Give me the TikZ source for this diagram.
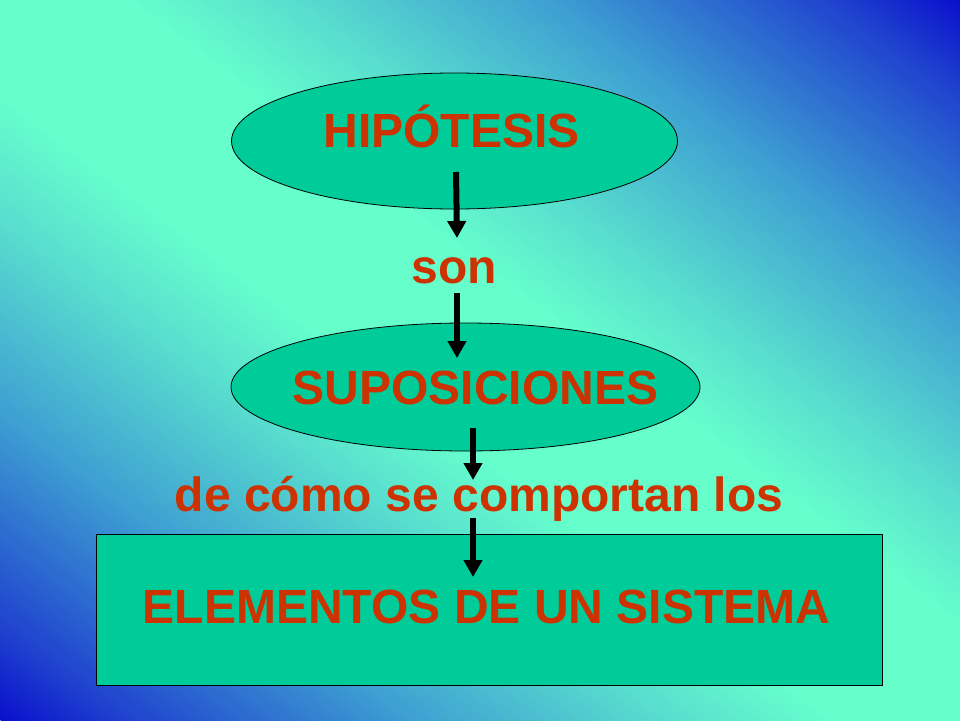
\documentclass[tikz,border=0pt]{standalone}
\usepackage{fontspec}
\setmainfont{Liberation Sans}
\usetikzlibrary{shapes.geometric,arrows.meta}
\definecolor{g0}{HTML}{0A0FCC}
\definecolor{g1}{HTML}{1F42CE}
\definecolor{g2}{HTML}{3EA0D2}
\definecolor{g3}{HTML}{58DCCE}
\definecolor{g4}{HTML}{66FFCC}
\definecolor{shapefill}{HTML}{00CC99}
\definecolor{txtred}{HTML}{CC3300}
% one gradient segment: u from #1 to #2, colour #3 to #4, #5 strips
\newcommand\gradseg[5]{%
  \foreach \k in {1,...,#5}{%
    \pgfmathsetmacro\ua{(#1)+((#2)-(#1))*(\k-1)/#5}%
    \pgfmathsetmacro\ub{(#1)+((#2)-(#1))*\k/#5+0.003}%
    \pgfmathsetmacro\pct{100*(\k-0.5)/#5}%
    \fill[#4!\pct!#3] ({960*\ua-13.33},-10) -- ({960*\ub-13.33},-10)
      -- ({960*\ub+973.33},730) -- ({960*\ua+973.33},730) -- cycle;
  }}
\tikzset{
  shapeline/.style={draw=black, line width=0.8pt, fill=shapefill, inner sep=0pt},
  oval/.style={shapeline, ellipse},
  bigtext/.style={text=txtred, font=\bfseries\fontsize{48}{56}\selectfont, inner sep=0pt, anchor=base},
  arr/.style={line width=6pt, -{Triangle[width=18pt,length=17pt]}, black}
}
\begin{document}
\begin{tikzpicture}[x=1pt,y=-1pt]
\useasboundingbox (0,0) rectangle (960,720);
\begin{scope}
\clip (0,0) rectangle (960,720);
\fill[g0] (0,0) rectangle (960,720);
\gradseg{-1}{-0.87}{g0}{g1}{20}
\gradseg{-0.87}{-0.57}{g1}{g2}{40}
\gradseg{-0.57}{-0.31}{g2}{g3}{30}
\gradseg{-0.31}{-0.13}{g3}{g4}{20}
\gradseg{-0.13}{0.13}{g4}{g4}{2}
\gradseg{0.13}{0.31}{g4}{g3}{20}
\gradseg{0.31}{0.57}{g3}{g2}{30}
\gradseg{0.57}{0.87}{g2}{g1}{40}
\gradseg{0.87}{1.0}{g1}{g0}{20}
\end{scope}

\node[oval, minimum width=446pt, minimum height=136pt] (hyp) at (454.5,141) {};
\node[oval, minimum width=469pt, minimum height=128pt] (sup) at (465.5,387) {};
\node[shapeline, rectangle, minimum width=786pt, minimum height=151pt] (sys) at (489,609.5) {};

\node[bigtext] (thyp) at (451.5,147) {HIPÓTESIS};
\node[bigtext] (tson) at (454,283) {son};
\node[bigtext] (tsup) at (475.5,404) {SUPOSICIONES};
\node[bigtext] (tcomo) at (479,511) {de cómo se comportan los};
\node[bigtext] (tsys) at (486.5,623) {ELEMENTOS DE UN SISTEMA};

\coordinate (a1s) at (456,172);
\coordinate (a1e) at (457,238);
\coordinate (a2s) at (457,293);
\coordinate (a2e) at (457,358);
\coordinate (a3s) at (473,428);
\coordinate (a3e) at (473,480);
\coordinate (a4s) at (473,518);
\coordinate (a4e) at (473,577);
\draw[arr] (a1s) -- (a1e);
\draw[arr] (a2s) -- (a2e);
\draw[arr] (a3s) -- (a3e);
\draw[arr] (a4s) -- (a4e);
\end{tikzpicture}
\end{document}
